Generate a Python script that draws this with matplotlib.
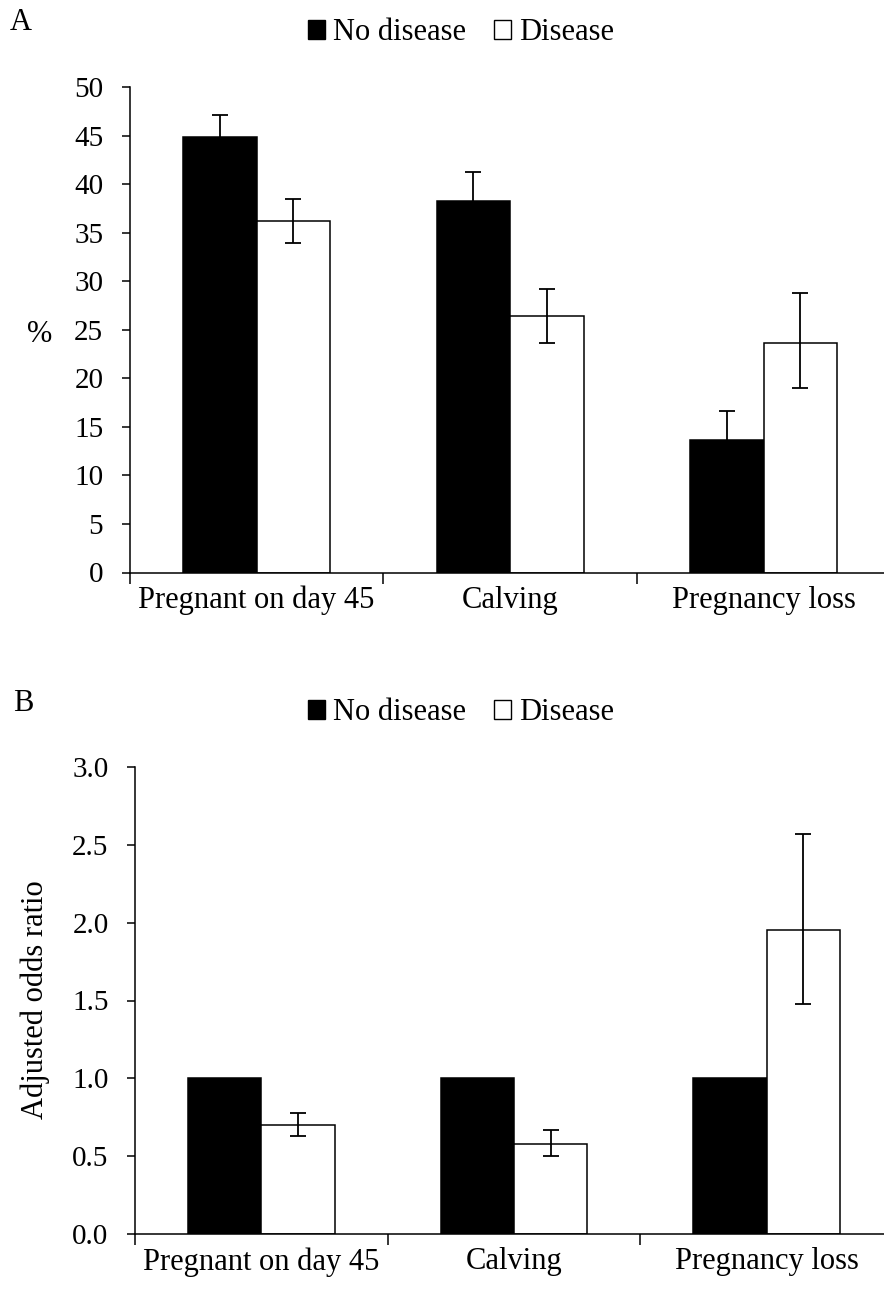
import matplotlib
matplotlib.use("Agg")
import matplotlib.pyplot as plt
from matplotlib.patches import Patch
import numpy as np

categories = ["Pregnant on day 45", "Calving", "Pregnancy loss"]
series_names = ["No disease", "Disease"]

# Panel A (%)
a_no_disease = [44.8, 38.3, 13.6]
a_no_disease_err = [2.3, 2.9, 3.0]
a_disease = [36.2, 26.4, 23.6]
a_disease_err_low = [2.3, 2.8, 4.6]
a_disease_err_high = [2.3, 2.8, 5.2]
a_yticks = [0, 5, 10, 15, 20, 25, 30, 35, 40, 45, 50]

# Panel B (adjusted odds ratio)
b_no_disease = [1.0, 1.0, 1.0]
b_disease = [0.70, 0.58, 1.95]
b_disease_ci_low = [0.63, 0.50, 1.48]
b_disease_ci_high = [0.78, 0.67, 2.57]
b_yticks = [0.0, 0.5, 1.0, 1.5, 2.0, 2.5, 3.0]

plt.rcParams['font.family'] = ['Liberation Serif', 'DejaVu Serif']

W, H = 884, 1304
fig = plt.figure(figsize=(W / 100, H / 100), dpi=100)

def frac(left, top, right, bottom):
    return [left / W, 1 - bottom / H, (right - left) / W, (bottom - top) / H]

axA = fig.add_axes(frac(129.7, 87, 890.5, 572.5))
axB = fig.add_axes(frac(135, 767, 893, 1234))

bw = 0.29
x = np.arange(len(categories))


def style(ax, ymax, yticks, fmt):
    ax.set_xlim(-0.5, 2.5)
    ax.set_ylim(0, ymax)
    ax.set_yticks(yticks)
    ax.set_yticklabels([fmt(v) for v in yticks])
    for s in ["top", "right"]:
        ax.spines[s].set_visible(False)
    for s in ["left", "bottom"]:
        ax.spines[s].set_linewidth(1.1)
        ax.spines[s].set_clip_on(False)
    ax.set_xticks([-0.5, 0.5, 1.5, 2.5])
    ax.set_xticklabels([])
    ax.set_xticks(x, minor=True)
    ax.set_xticklabels(categories, minor=True, fontsize=22)
    ax.tick_params(axis='x', which='major', direction='out', length=8, width=1.1)
    ax.tick_params(axis='x', which='minor', length=0, pad=9.5)
    ax.tick_params(axis='y', direction='out', length=5.5, width=1.1, labelsize=21, pad=13.5)


# Panel A
axA.bar(x - bw / 2, a_no_disease, bw, color='black', edgecolor='black', linewidth=1.1, zorder=2)
axA.bar(x + bw / 2, a_disease, bw, color='white', edgecolor='black', linewidth=1.1, zorder=2)
axA.errorbar(x - bw / 2, a_no_disease, yerr=a_no_disease_err, fmt='none', ecolor='black',
             elinewidth=1.3, capsize=5.5, capthick=1.3, zorder=3)
axA.errorbar(x + bw / 2, a_disease, yerr=[a_disease_err_low, a_disease_err_high], fmt='none',
             ecolor='black', elinewidth=1.3, capsize=5.5, capthick=1.3, zorder=3)
style(axA, 50, a_yticks, lambda v: f"{v:d}")

# Panel B
axB.bar(x - bw / 2, b_no_disease, bw, color='black', edgecolor='black', linewidth=1.1, zorder=2)
axB.bar(x + bw / 2, b_disease, bw, color='white', edgecolor='black', linewidth=1.1, zorder=2)
b_err = [np.array(b_disease) - np.array(b_disease_ci_low),
         np.array(b_disease_ci_high) - np.array(b_disease)]
axB.errorbar(x + bw / 2, b_disease, yerr=b_err, fmt='none', ecolor='black',
             elinewidth=1.3, capsize=5.5, capthick=1.3, zorder=3)
style(axB, 3.0, b_yticks, lambda v: f"{v:.1f}")

# y labels
fig.text(40 / W, 1 - 335 / H, "%", fontsize=22, ha='center', va='center')
fig.text(35 / W, 1 - 1000 / H, "Adjusted odds ratio", fontsize=22, ha='center', va='center',
         rotation=90)

# panel letters
fig.text(21 / W, 1 - 22 / H, "A", fontsize=22, ha='center', va='center')
fig.text(23 / W, 1 - 703 / H, "B", fontsize=22, ha='center', va='center')

# legends
handles = [Patch(facecolor='black', edgecolor='black', linewidth=1.0),
           Patch(facecolor='white', edgecolor='black', linewidth=1.0)]
for yc in (33, 713):
    fig.legend(handles, series_names, loc='center', bbox_to_anchor=(461 / W, 1 - yc / H),
               ncol=2, frameon=False, fontsize=22, handlelength=0.56, handleheight=0.56,
               handletextpad=0.26, columnspacing=0.92, borderpad=0, borderaxespad=0)

fig.savefig("out.png", dpi=100)
